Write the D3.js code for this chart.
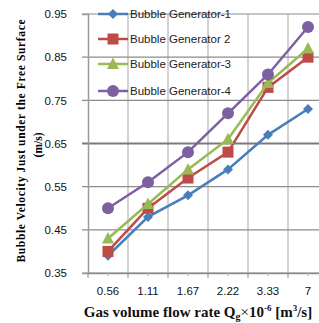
<!DOCTYPE html>
<html>
<head>
<meta charset="utf-8">
<script src="https://cdn.jsdelivr.net/npm/d3@7"></script>
<style>
  body { margin: 0; background: #fff; }
  svg { display: block; }
  .tick text { font-family: "Liberation Sans", Arial, sans-serif; font-size: 11.5px; fill: #111; }
</style>
</head>
<body>
<div id="chart"></div>
<script>
const width = 319;
const height = 323;

// data
const categories = ["0.56", "1.11", "1.67", "2.22", "3.33", "7"];
const gen1 = [0.39, 0.48, 0.53, 0.59, 0.67, 0.73];
const gen2 = [0.40, 0.50, 0.57, 0.63, 0.78, 0.85];
const gen3 = [0.43, 0.51, 0.59, 0.66, 0.79, 0.87];
const gen4 = [0.50, 0.56, 0.63, 0.72, 0.81, 0.92];
const yTicks = [0.35, 0.45, 0.55, 0.65, 0.75, 0.85, 0.95];
const seriesNames = ["Bubble Generator-1", "Bubble Generator 2", "Bubble Generator-3", "Bubble Generator-4"];

const series = [
    { name: seriesNames[0], values: gen1, color: "#4a7ebb", marker: "diamond" },
    { name: seriesNames[1], values: gen2, color: "#be4b48", marker: "square" },
    { name: seriesNames[2], values: gen3, color: "#98b954", marker: "triangle" },
    { name: seriesNames[3], values: gen4, color: "#7d60a0", marker: "circle" }
];

const svg = d3.select("#chart")
    .append("svg")
    .attr("width", width)
    .attr("height", height);

// plot runs past the right edge like the picture
const plotLeft = 88, plotTop = 14, plotBottom = 273, plotRight = 328;

const x = d3.scaleBand().domain(categories).range([plotLeft, plotRight]);
const y = d3.scaleLinear().domain([0.35, 0.95]).range([plotBottom, plotTop]);

// vertical grid at category boundaries
const bounds = categories.map(c => x(c)).concat([plotRight]);
svg.append("g")
    .selectAll("line")
    .data(bounds.slice(1))
    .join("line")
    .attr("x1", d => d).attr("x2", d => d)
    .attr("y1", plotTop).attr("y2", plotBottom)
    .attr("stroke", "#c4c4c4")
    .attr("stroke-width", 1.5);

// horizontal grid
svg.append("g")
    .selectAll("line")
    .data(yTicks)
    .join("line")
    .attr("x1", plotLeft - 6).attr("x2", width)
    .attr("y1", d => y(d)).attr("y2", d => y(d))
    .attr("stroke", d => d === 0.65 ? "#7a7a7a" : "#8c8c8c")
    .attr("stroke-width", d => d === 0.65 ? 2 : 1.2);

// y axis
const yAxis = svg.append("g")
    .attr("transform", `translate(${plotLeft},0)`)
    .call(d3.axisLeft(y).tickValues(yTicks).tickFormat(d3.format(".2f")).tickSize(6).tickPadding(15));
yAxis.select(".domain").attr("stroke", "#9a9a9a").attr("stroke-width", 1.5);
yAxis.selectAll(".tick line").remove();

// x axis
const xAxis = svg.append("g")
    .attr("transform", `translate(0,${plotBottom})`)
    .call(d3.axisBottom(x).tickSize(0).tickPadding(14));
xAxis.select(".domain").attr("stroke", "#8c8c8c").attr("stroke-width", 1.5);

svg.append("g")
    .selectAll("line")
    .data(bounds)
    .join("line")
    .attr("x1", d => d).attr("x2", d => d)
    .attr("y1", plotBottom).attr("y2", plotBottom + 5)
    .attr("stroke", "#8c8c8c");
svg.append("g")
    .selectAll("line")
    .data(categories)
    .join("line")
    .attr("x1", d => x(d) + x.bandwidth() / 2).attr("x2", d => x(d) + x.bandwidth() / 2)
    .attr("y1", plotBottom).attr("y2", plotBottom + 3)
    .attr("stroke", "#b0b0b0");

// lines
const line = d3.line()
    .x((d, i) => x(categories[i]) + x.bandwidth() / 2)
    .y(d => y(d));

function drawMarker(g, type, color) {
    if (type === "diamond") {
        g.append("path").attr("d", "M0,-5L5,0L0,5L-5,0Z").attr("fill", color);
    } else if (type === "square") {
        g.append("rect").attr("x", -5.5).attr("y", -5.5).attr("width", 11).attr("height", 11).attr("fill", color);
    } else if (type === "triangle") {
        g.append("path").attr("d", "M0,-6.5L6,5L-6,5Z").attr("fill", color);
    } else {
        g.append("circle").attr("r", 6).attr("fill", color);
    }
}

series.forEach(s => {
    svg.append("path")
        .datum(s.values)
        .attr("fill", "none")
        .attr("stroke", s.color)
        .attr("stroke-width", 2.5)
        .attr("d", line);
    s.values.forEach((v, i) => {
        const g = svg.append("g")
            .attr("transform", `translate(${x(categories[i]) + x.bandwidth() / 2},${y(v)})`);
        drawMarker(g, s.marker, s.color);
    });
});

// legend
const legend = svg.append("g").attr("transform", "translate(98,14)");
series.forEach((s, i) => {
    const g = legend.append("g").attr("transform", `translate(0,${[0, 25, 50, 77][i]})`);
    g.append("line").attr("x1", 0).attr("x2", 30).attr("stroke", s.color).attr("stroke-width", 2.5);
    const m = g.append("g").attr("transform", "translate(15,0)");
    drawMarker(m, s.marker, s.color);
    g.append("text")
        .attr("x", 32).attr("y", 4)
        .attr("font-family", "Liberation Sans, Arial, sans-serif")
        .attr("font-size", 11.5)
        .attr("fill", "#222")
        .text(s.name);
});

// axis titles
svg.append("text")
    .attr("transform", "translate(25,141) rotate(-90)")
    .attr("text-anchor", "middle")
    .attr("font-family", "Liberation Serif, Times New Roman, serif")
    .attr("font-weight", "bold")
    .attr("font-size", 11.5)
    .attr("textLength", 243)
    .attr("lengthAdjust", "spacing")
    .text("Bubble Velocity Just under the Free Surface");
svg.append("text")
    .attr("transform", "translate(42,145) rotate(-90)")
    .attr("text-anchor", "middle")
    .attr("font-family", "Liberation Serif, Times New Roman, serif")
    .attr("font-weight", "bold")
    .attr("font-size", 11.5)
    .text("(m/s)");

const xTitle = svg.append("text")
    .attr("x", 198).attr("y", 317)
    .attr("text-anchor", "middle")
    .attr("font-family", "Liberation Serif, Times New Roman, serif")
    .attr("font-weight", "bold")
    .attr("font-size", 15)
    .attr("fill", "#111");
xTitle.append("tspan").text("Gas volume flow rate Q");
xTitle.append("tspan").attr("font-size", 10).attr("dy", 3).text("g");
xTitle.append("tspan").attr("dy", -3).attr("font-weight", "normal").text("×");
xTitle.append("tspan").text("10");
xTitle.append("tspan").attr("font-size", 9).attr("dy", -6).text("-6");
xTitle.append("tspan").attr("dy", 6).text(" [m");
xTitle.append("tspan").attr("font-size", 9).attr("dy", -6).text("3");
xTitle.append("tspan").attr("dy", 6).text("/s]");
</script>
</body>
</html>
